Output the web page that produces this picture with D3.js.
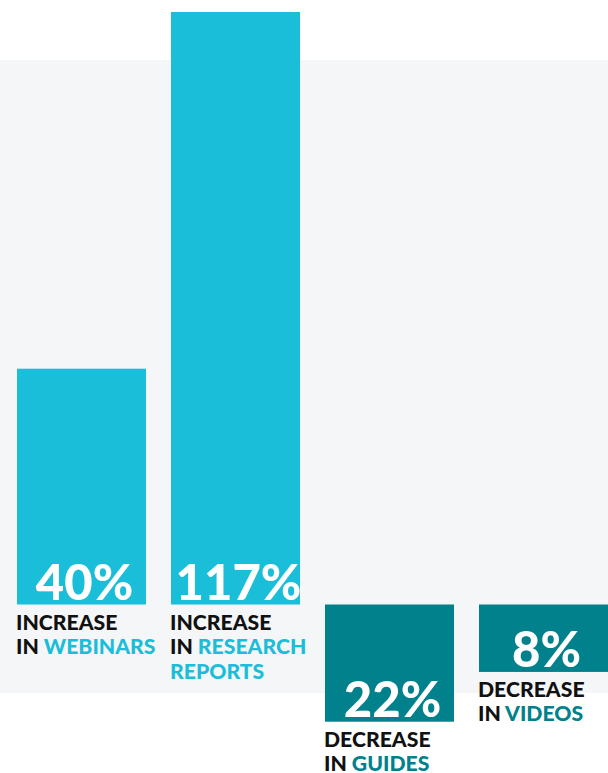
<!DOCTYPE html>
<html>
<head>
<meta charset="utf-8">
<script src="https://cdn.jsdelivr.net/npm/d3@7"></script>
<style>
  html, body { margin: 0; padding: 0; background: #ffffff; }
  svg { display: block; }
  text { font-family: Lato, "Open Sans", sans-serif; }
</style>
</head>
<body>
<div id="chart"></div>
<script>
// Content type changes, in percent
const categories = ["WEBINARS", "RESEARCH REPORTS", "GUIDES", "VIDEOS"];
const values = [40, 117, 22, 8];
const directions = ["INCREASE", "INCREASE", "DECREASE", "DECREASE"];
// how each category name wraps after "IN"
const nameLines = [["WEBINARS"], ["RESEARCH", "REPORTS"], ["GUIDES"], ["VIDEOS"]];

const W = 608, H = 773;
const baseline = 604.5;
const cyan = "#1bbed8", teal = "#00818b", ink = "#111111";

const svg = d3.select("#chart").append("svg")
  .attr("width", W).attr("height", H);

// light panel behind the bars
svg.append("rect")
  .attr("x", 0).attr("y", 60).attr("width", W).attr("height", 633)
  .attr("fill", "#f5f6f8");

// four 129px columns, the last one flush with the right edge
const x = d3.scaleBand()
  .domain(categories)
  .range([17, W])
  .paddingInner(25 / 154)
  .paddingOuter(0);

// increases rise from the baseline, decreases hang below it;
// each scale keeps room for the value label inside short bars
const yUp = d3.scaleLinear().domain([0, 117]).range([baseline - 50.5, 12]);
const yDown = d3.scaleLinear().domain([0, 22]).range([baseline + 39, 721.7]);

const data = categories.map((c, i) => ({
  cat: c, value: values[i], dir: directions[i], lines: nameLines[i],
  up: directions[i] === "INCREASE"
}));

const g = svg.selectAll("g.item").data(data).join("g").attr("class", "item");

g.append("rect")
  .attr("x", d => x(d.cat))
  .attr("width", x.bandwidth())
  .attr("y", d => d.up ? yUp(d.value) : baseline)
  .attr("height", d => d.up ? baseline - yUp(d.value) : yDown(d.value) - baseline)
  .attr("fill", d => d.up ? cyan : teal);

const barBottom = d => d.up ? baseline : yDown(d.value);

g.append("text")
  .attr("x", d => x(d.cat) + x.bandwidth() / 2 + 3)
  .attr("y", d => barBottom(d) - 4.5)
  .attr("text-anchor", "middle")
  .attr("fill", "#ffffff")
  .attr("font-size", 49)
  .attr("font-weight", 900)
  .text(d => d.value + "%");

// caption under each bar
g.each(function (d) {
  const sel = d3.select(this);
  const x0 = x(d.cat) - 1;
  const y0 = barBottom(d) + 25;
  const col = d.up ? cyan : teal;
  const fs = 21.2;
  sel.append("text")
    .attr("x", x0).attr("y", y0)
    .attr("font-size", fs).attr("font-weight", 900).attr("fill", ink)
    .text(d.dir);
  const t2 = sel.append("text")
    .attr("x", x0).attr("y", y0 + 24.5)
    .attr("font-size", fs).attr("font-weight", 900);
  t2.append("tspan").attr("fill", ink).text("IN ");
  t2.append("tspan").attr("fill", col).text(d.lines[0]);
  d.lines.slice(1).forEach((ln, k) => {
    sel.append("text")
      .attr("x", x0).attr("y", y0 + 24.5 * (k + 2))
      .attr("font-size", fs).attr("font-weight", 900).attr("fill", col)
      .text(ln);
  });
});
</script>
</body>
</html>
